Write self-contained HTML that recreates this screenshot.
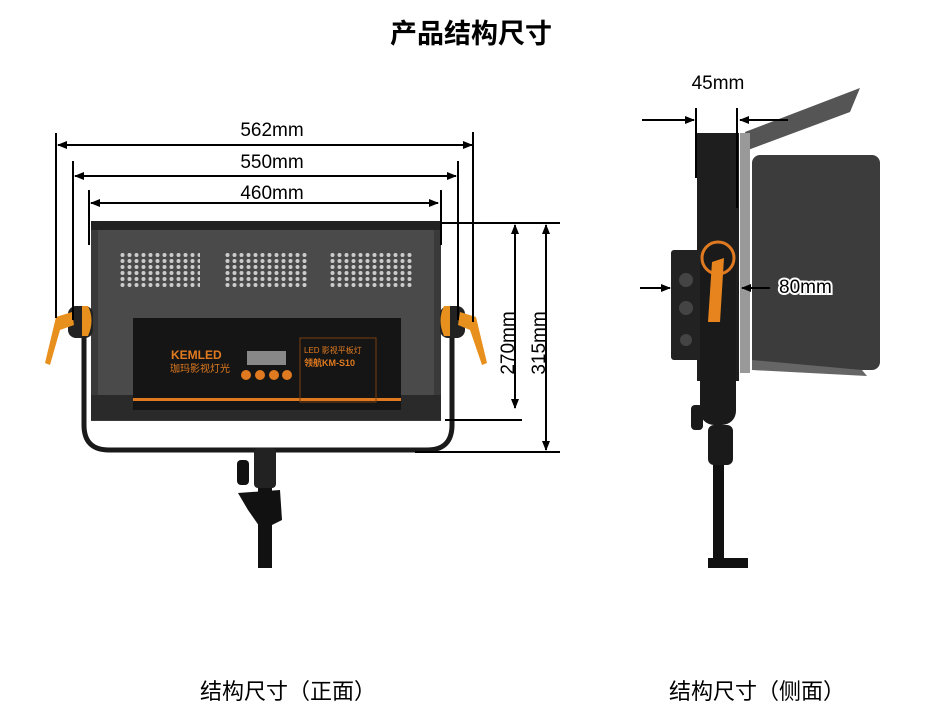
<!DOCTYPE html>
<html><head><meta charset="utf-8"><style>
html,body{margin:0;padding:0;background:#fff;width:945px;height:727px;overflow:hidden}
svg{display:block}
text{font-family:"Liberation Sans","Noto Sans CJK SC",sans-serif}
</style></head><body>
<svg width="945" height="727" viewBox="0 0 945 727" xmlns="http://www.w3.org/2000/svg">
<defs>
<marker id="a" markerWidth="10" markerHeight="8" refX="9" refY="4" orient="auto" markerUnits="userSpaceOnUse"><path d="M0,0 L10,4 L0,8 z" fill="#000"/></marker>
<pattern id="dots" width="7" height="6" patternUnits="userSpaceOnUse"><circle cx="3.5" cy="3" r="2" fill="#ccc"/></pattern>
</defs>
<text x="471" y="43" font-size="27" font-weight="bold" text-anchor="middle" font-family="Noto Sans CJK SC,sans-serif">产品结构尺寸</text>

<!-- FRONT -->
<path d="M84 330 L84 425 Q84 450 109 450 L427 450 Q452 450 452 425 L452 330" fill="none" stroke="#1a1a1a" stroke-width="5"/>
<rect x="258" y="455" width="14" height="113" fill="#111"/>
<rect x="254" y="448" width="22" height="40" rx="4" fill="#222"/>
<rect x="237" y="460" width="12" height="25" rx="4" fill="#111"/>
<path d="M238 493 L280 490 L282 520 L262 530 L248 510 Z" fill="#111"/>
<rect x="91" y="221" width="350" height="200" fill="#3a3a3a"/>
<rect x="98" y="230" width="336" height="165" fill="#4a4a4a"/>
<rect x="91" y="221" width="350" height="9" fill="#222"/>
<rect x="91" y="395" width="350" height="25" fill="#2a2a2a"/>
<rect x="118" y="253" width="82" height="34" fill="url(#dots)"/>
<rect x="223" y="253" width="84" height="34" fill="url(#dots)"/>
<rect x="328" y="253" width="84" height="34" fill="url(#dots)"/>
<rect x="133" y="318" width="268" height="92" fill="#151515"/>
<rect x="133" y="398" width="268" height="3" fill="#e07a20"/>
<text x="171" y="359" font-size="12" font-weight="bold" fill="#e07a20">KEMLED</text>
<text x="170" y="372" font-size="10" fill="#e07a20" font-family="Noto Sans CJK SC,sans-serif">珈玛影视灯光</text>
<rect x="247" y="351" width="39" height="14" fill="#888"/>
<circle cx="246" cy="375" r="5" fill="#e07a20"/><circle cx="260" cy="375" r="5" fill="#e07a20"/><circle cx="274" cy="375" r="5" fill="#e07a20"/><circle cx="287" cy="375" r="5" fill="#e07a20"/>
<rect x="300" y="338" width="76" height="64" fill="none" stroke="#7a4010" stroke-width="1"/>
<text x="304" y="353" font-size="8" fill="#e07a20">LED 影视平板灯</text>
<text x="304" y="366" font-size="9" font-weight="bold" fill="#e07a20">领航KM-S10</text>
<rect x="68" y="306" width="25" height="32" rx="8" fill="#222"/>
<rect x="440" y="306" width="25" height="32" rx="8" fill="#222"/>
<path d="M56 317 L72 312 L74 325 L60 330 L50 365 L45 363 Z" fill="#e8901e"/>
<path d="M88 306 Q95 320 88 336 L82 336 L82 306 Z" fill="#e8901e"/>
<path d="M476 317 L460 312 L458 325 L470 330 L482 365 L487 363 Z" fill="#e8901e"/>
<path d="M444 306 Q437 320 444 336 L450 336 L450 306 Z" fill="#e8901e"/>

<g stroke="#000" stroke-width="2" fill="none">
<line x1="56" y1="133" x2="56" y2="318"/><line x1="473" y1="132" x2="473" y2="322"/>
<line x1="73" y1="161" x2="73" y2="320"/><line x1="458" y1="161" x2="458" y2="320"/>
<line x1="89" y1="190" x2="89" y2="245"/><line x1="441" y1="190" x2="441" y2="245"/>
<line x1="270" y1="145" x2="58" y2="145" marker-end="url(#a)"/><line x1="270" y1="145" x2="472" y2="145" marker-end="url(#a)"/>
<line x1="270" y1="176" x2="75" y2="176" marker-end="url(#a)"/><line x1="270" y1="176" x2="456" y2="176" marker-end="url(#a)"/>
<line x1="270" y1="203" x2="91" y2="203" marker-end="url(#a)"/><line x1="270" y1="203" x2="438" y2="203" marker-end="url(#a)"/>
<line x1="440" y1="223" x2="560" y2="223"/>
<line x1="445" y1="420" x2="522" y2="420"/>
<line x1="415" y1="452" x2="560" y2="452"/>
<line x1="515" y1="320" x2="515" y2="225" marker-end="url(#a)"/><line x1="515" y1="320" x2="515" y2="408" marker-end="url(#a)"/>
<line x1="546" y1="320" x2="546" y2="225" marker-end="url(#a)"/><line x1="546" y1="320" x2="546" y2="450" marker-end="url(#a)"/>
</g>
<g font-size="19" text-anchor="middle">
<text x="272" y="136">562mm</text>
<text x="272" y="168">550mm</text>
<text x="272" y="199">460mm</text>
<text transform="translate(514,343) rotate(-90)">270mm</text>
<text transform="translate(545,343) rotate(-90)">315mm</text>
</g>

<!-- SIDE -->
<path d="M745 132 L860 88 L850 112 L748 150 Z" fill="#555"/>
<rect x="752" y="155" width="128" height="215" rx="8" fill="#3c3c3c"/>
<path d="M752 360 L862 370 L867 376 L752 370 Z" fill="#666"/>
<rect x="740" y="133" width="10" height="240" fill="#999"/>
<rect x="697" y="133" width="42" height="248" fill="#1e1e1e"/>
<rect x="671" y="250" width="30" height="110" rx="3" fill="#222"/>
<circle cx="686" cy="280" r="7" fill="#444"/><circle cx="686" cy="308" r="7" fill="#444"/><circle cx="686" cy="340" r="6" fill="#444"/>
<rect x="700" y="245" width="36" height="180" rx="14" fill="#1a1a1a"/>
<circle cx="718" cy="258" r="16" fill="none" stroke="#e07a20" stroke-width="3"/>
<path d="M712 262 L724 258 L720 322 L708 322 Z" fill="#e8841e"/>
<rect x="713" y="440" width="11" height="128" fill="#111"/>
<rect x="708" y="425" width="25" height="40" rx="6" fill="#1a1a1a"/>
<rect x="691" y="405" width="12" height="25" rx="4" fill="#1a1a1a"/>
<rect x="708" y="558" width="40" height="10" fill="#111"/>
<g stroke="#000" stroke-width="2" fill="none">
<line x1="696" y1="108" x2="696" y2="178"/><line x1="737" y1="108" x2="737" y2="208"/>
<line x1="642" y1="120" x2="694" y2="120" marker-end="url(#a)"/>
<line x1="788" y1="120" x2="740" y2="120" marker-end="url(#a)"/>
<line x1="640" y1="288" x2="670" y2="288" marker-end="url(#a)"/>
<line x1="770" y1="288" x2="742" y2="288" marker-end="url(#a)"/>
</g>
<text x="718" y="89" font-size="19" text-anchor="middle">45mm</text>
<text x="779" y="293" font-size="19" stroke="#fff" stroke-width="4" paint-order="stroke">80mm</text>

<text x="288" y="699" font-size="22" text-anchor="middle" font-family="Noto Sans CJK SC,sans-serif">结构尺寸（正面）</text>
<text x="757" y="699" font-size="22" text-anchor="middle" font-family="Noto Sans CJK SC,sans-serif">结构尺寸（侧面）</text>
</svg>
</body></html>
